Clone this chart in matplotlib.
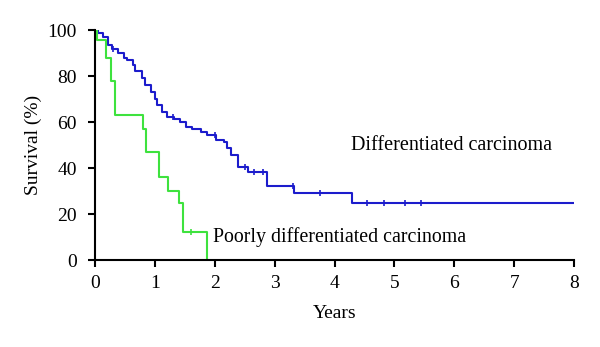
import numpy as np
import matplotlib
matplotlib.use('Agg')
import matplotlib.pyplot as plt

# Kaplan-Meier curves (years, survival %)
diff_t = [0, 0.05, 0.14, 0.22, 0.28, 0.39, 0.48, 0.53, 0.64, 0.67, 0.79, 0.84,
          0.93, 1.01, 1.04, 1.12, 1.21, 1.32, 1.43, 1.52, 1.63, 1.77, 1.88,
          2.02, 2.16, 2.21, 2.27, 2.39, 2.56, 2.88, 3.32, 4.30, 8.0]
diff_s = [100, 98.5, 97, 93.5, 91.7, 90, 88, 87, 85, 82, 79, 76,
          73, 70, 67.5, 64.5, 62, 61.5, 60, 58, 57, 55.8, 54.3,
          52, 51.4, 48.5, 45.6, 40.6, 38.4, 32.2, 29, 24.9, 24.9]
diff_cens = [0.3, 1.3, 2.0, 2.5, 2.65, 2.8, 3.3, 3.75, 4.55, 4.83, 5.17, 5.45]

poor_t = [0, 0.03, 0.185, 0.265, 0.337, 0.80, 0.86, 1.07, 1.22, 1.40, 1.48, 1.87]
poor_s = [100, 95.7, 87.7, 78, 63, 57, 47, 36, 30, 24.6, 12.3, 0]
poor_cens = [1.6]

blue = '#1c1ccc'
green = '#3ee23e'

plt.rcParams['font.family'] = ['Liberation Serif', 'DejaVu Serif']

fig = plt.figure(figsize=(6.0, 3.47), dpi=100)
ax = fig.add_axes([0.158, 0.2507, 0.799, 0.6628])

ax.step(diff_t, diff_s, where='post', color=blue, lw=1.5)
ax.step(poor_t, poor_s, where='post', color=green, lw=1.5)


def level(times, surv, t):
    i = np.searchsorted(times, t, side='right') - 1
    return surv[i]


ax.plot(diff_cens, [level(diff_t, diff_s, t) for t in diff_cens], ls='none',
        marker='|', ms=4, mew=1.2, color=blue)
ax.plot(poor_cens, [level(poor_t, poor_s, t) for t in poor_cens], ls='none',
        marker='|', ms=4, mew=1.2, color=green)

ax.text(4.28, 49.6, 'Differentiated carcinoma', fontsize=14.5, va='center', ha='left')
ax.text(1.98, 10, 'Poorly differentiated carcinoma', fontsize=14.3, va='center', ha='left')

ax.set_xlim(0, 8)
ax.set_ylim(0, 100)
ax.set_xticks(range(0, 9))
ax.set_yticks(range(0, 101, 20))
ax.set_xlabel('Years', fontsize=14, labelpad=9)
ax.set_ylabel('Survival (%)', fontsize=14, labelpad=4)

for s in ['top', 'right']:
    ax.spines[s].set_visible(False)
for s in ['left', 'bottom']:
    ax.spines[s].set_linewidth(1.5)
ax.tick_params(direction='out', length=5, width=1.5, labelsize=14)
ax.tick_params(axis='y', pad=8)
ax.tick_params(axis='x', pad=6)

fig.savefig('out.png', dpi=100)
